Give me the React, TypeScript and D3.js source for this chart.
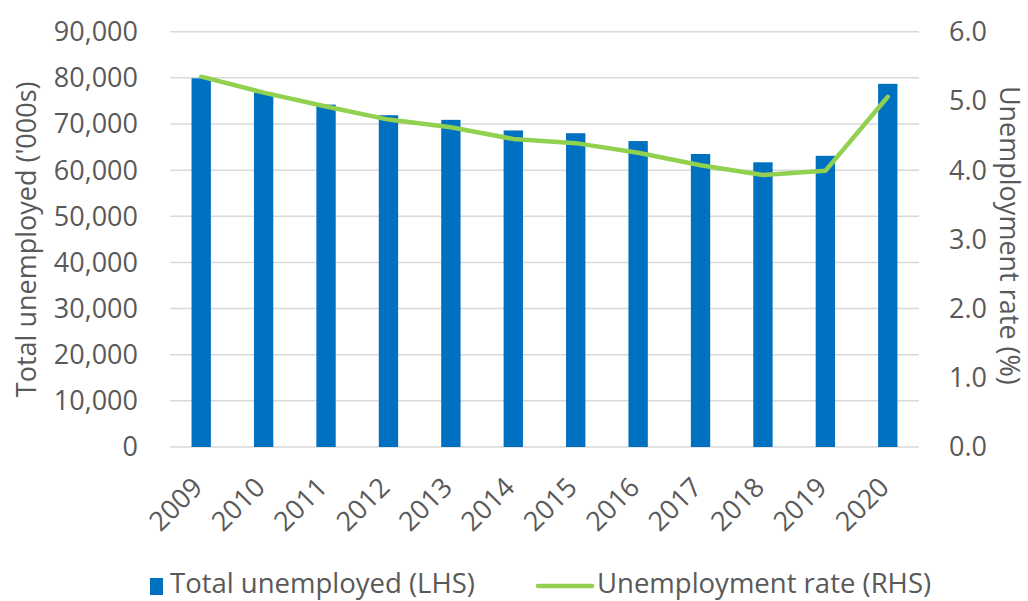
import React from "react";
import * as d3 from "d3";

const years = ["2009","2010","2011","2012","2013","2014","2015","2016","2017","2018","2019","2020"];
const totalUnemployed = [79900, 76800, 74200, 71900, 70900, 68600, 68000, 66300, 63500, 61700, 63100, 78700];
const unemploymentRate = [5.35, 5.12, 4.92, 4.73, 4.62, 4.45, 4.39, 4.25, 4.07, 3.93, 3.99, 5.06];
const leftTicks = [0, 10000, 20000, 30000, 40000, 50000, 60000, 70000, 80000, 90000];
const rightTicks = [0, 1, 2, 3, 4, 5, 6];

const W = 1028, H = 601;
const plotL = 170, plotR = 919, plotT = 31.7, plotB = 447;
const FONT = "'Open Sans', sans-serif";
const TXT = "#595959";

export default function App() {
  const x = d3.scaleBand<string>().domain(years).range([plotL, plotR]).paddingInner(0.69).paddingOuter(0.345);
  const yL = d3.scaleLinear().domain([0, 90000]).range([plotB, plotT]);
  const yR = d3.scaleLinear().domain([0, 6]).range([plotB, plotT]);
  const fmtL = d3.format(",");
  const fmtR = d3.format(".1f");
  const cx = (y: string) => (x(y) as number) + x.bandwidth() / 2;
  const line = d3.line<number>()
    .x((_, i) => cx(years[i]))
    .y((d) => yR(d));

  return (
    <svg width={W} height={H} style={{ position: "absolute", left: 0, top: 0, background: "#fff" }} fontFamily={FONT}>
      {leftTicks.map((t) => (
        <line key={"g" + t} x1={plotL} x2={plotR} y1={yL(t)} y2={yL(t)} stroke="#D9D9D9" strokeWidth={1.5} />
      ))}
      {years.map((y, i) => (
        <rect key={"b" + y} x={x(y)} y={yL(totalUnemployed[i])} width={x.bandwidth()} height={plotB - yL(totalUnemployed[i])} fill="#0070C0" />
      ))}
      <path d={line(unemploymentRate) || ""} fill="none" stroke="#92D050" strokeWidth={4.5} strokeLinejoin="round" strokeLinecap="round" />
      {leftTicks.map((t) => (
        <text key={"lt" + t} x={138} y={yL(t)} dy="0.35em" textAnchor="end" fontSize={27} fill={TXT}>{fmtL(t)}</text>
      ))}
      {rightTicks.map((t) => (
        <text key={"rt" + t} x={949} y={yR(t)} dy="0.35em" textAnchor="start" fontSize={27} fill={TXT}>{fmtR(t)}</text>
      ))}
      {years.map((y) => (
        <text key={"xt" + y} transform={`translate(${cx(y) + 3},${489}) rotate(-45)`} textAnchor="end" fontSize={27} fill={TXT}>{y}</text>
      ))}
      <text transform={`translate(36,${(plotT + plotB) / 2}) rotate(-90)`} textAnchor="middle" fontSize={27} fill={TXT}>Total unemployed ('000s)</text>
      <text transform={`translate(1000,${(plotT + plotB) / 2 - 4}) rotate(90)`} textAnchor="middle" fontSize={27} fill={TXT}>Unemployment rate (%)</text>
      <rect x={150} y={578} width={13} height={17} fill="#0070C0" />
      <text x={170} y={593} fontSize={27.5} fill={TXT}>Total unemployed (LHS)</text>
      <line x1={538} x2={592} y1={586} y2={586} stroke="#92D050" strokeWidth={4.5} strokeLinecap="round" />
      <text x={597} y={593} fontSize={27.5} fill={TXT}>Unemployment rate (RHS)</text>
    </svg>
  );
}
